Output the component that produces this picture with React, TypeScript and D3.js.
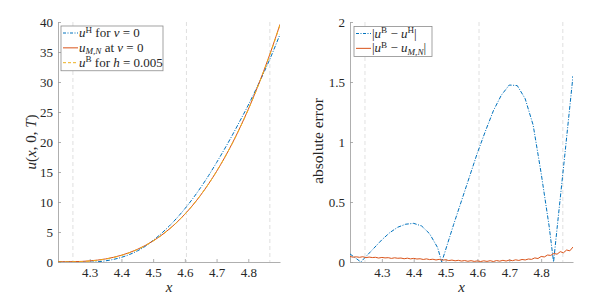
import { useEffect, useRef } from "react";
import * as d3 from "d3";

// x grid for the solution curves
const xU = [
  4.2, 4.225, 4.25, 4.275, 4.3, 4.325, 4.35, 4.375, 4.4, 4.425, 4.45, 4.475,
  4.5, 4.525, 4.55, 4.575, 4.6, 4.625, 4.65, 4.675, 4.7, 4.725, 4.75, 4.775,
  4.8, 4.825, 4.85, 4.875, 4.9,
];
const uH = [
  0.067, 0.021, -0.024, -0.049, -0.034, 0.041, 0.192, 0.434, 0.776, 1.237,
  1.843, 2.609, 3.6, 4.71, 5.95, 7.34, 8.88, 10.57, 12.42, 14.42, 16.57, 18.82,
  21.17, 23.64, 26.15, 28.86, 31.67, 34.68, 37.94,
];
const uMN = [
  0.044, 0.04, 0.06, 0.1, 0.19, 0.32, 0.51, 0.78, 1.13, 1.56, 2.1, 2.75, 3.52,
  4.41, 5.45, 6.63, 7.97, 9.48, 11.16, 13.04, 15.1, 17.36, 19.83, 22.53, 25.45,
  28.61, 32.02, 35.67, 39.61,
];
const uB = [
  0.0, 0.003, 0.021, 0.066, 0.151, 0.286, 0.482, 0.749, 1.098, 1.537, 2.078,
  2.729, 3.5, 4.4, 5.439, 6.626, 7.969, 9.478, 11.16, 13.03, 15.09, 17.35,
  19.81, 22.5, 25.41, 28.56, 31.95, 35.59, 39.49,
];

// |uB - uH|
const xErrH = [
  4.2, 4.225, 4.234, 4.25, 4.275, 4.3, 4.325, 4.35, 4.375, 4.4, 4.425, 4.45,
  4.475, 4.488, 4.5, 4.525, 4.55, 4.575, 4.6, 4.625, 4.65, 4.675, 4.7, 4.725,
  4.75, 4.775, 4.8, 4.825, 4.839, 4.85, 4.875, 4.9,
];
const errH = [
  0.067, 0.018, 0.0, 0.045, 0.115, 0.185, 0.245, 0.29, 0.315, 0.322, 0.3,
  0.235, 0.12, 0.0, 0.1, 0.31, 0.51, 0.71, 0.91, 1.09, 1.26, 1.39, 1.475, 1.47,
  1.36, 1.14, 0.74, 0.3, 0.0, 0.28, 0.91, 1.55,
];

// |uB - uMN|
const xErrMN = [
  4.2, 4.21, 4.22, 4.23, 4.24, 4.25, 4.26, 4.27, 4.28, 4.29, 4.3, 4.31, 4.32,
  4.33, 4.34, 4.35, 4.36, 4.37, 4.38, 4.39, 4.4, 4.41, 4.42, 4.43, 4.44, 4.45,
  4.46, 4.47, 4.48, 4.49, 4.5, 4.51, 4.52, 4.53, 4.54, 4.55, 4.56, 4.57, 4.58,
  4.59, 4.6, 4.61, 4.62, 4.63, 4.64, 4.65, 4.66, 4.67, 4.68, 4.69, 4.7, 4.71,
  4.72, 4.73, 4.74, 4.75, 4.76, 4.77, 4.78, 4.79, 4.8, 4.81, 4.82, 4.83, 4.84,
  4.85, 4.86, 4.87, 4.88, 4.89, 4.9,
];
const errMN = [
  0.046, 0.04, 0.043, 0.039, 0.044, 0.036, 0.041, 0.037, 0.039, 0.033, 0.038,
  0.034, 0.036, 0.03, 0.035, 0.031, 0.033, 0.027, 0.032, 0.026, 0.03, 0.025,
  0.027, 0.021, 0.026, 0.02, 0.023, 0.017, 0.022, 0.015, 0.019, 0.012, 0.016,
  0.01, 0.014, 0.008, 0.012, 0.006, 0.011, 0.005, 0.009, 0.004, 0.01, 0.005,
  0.011, 0.004, 0.012, 0.007, 0.014, 0.008, 0.016, 0.011, 0.018, 0.013, 0.021,
  0.017, 0.025, 0.022, 0.034, 0.029, 0.046, 0.042, 0.058, 0.055, 0.071, 0.065,
  0.086, 0.077, 0.1, 0.093, 0.125,
];

const markerLines = [4.247, 4.605, 4.868];
const xTicks = [4.3, 4.4, 4.5, 4.6, 4.7, 4.8];
const yTicksLeft = [0, 5, 10, 15, 20, 25, 30, 35, 40];
const yTicksRight = [0, 0.5, 1, 1.5, 2];

const BLUE = "#0072BD";
const ORANGE = "#D95319";
const YELLOW = "#EDB120";
const TEXT = "#262626";
const FONT = "Liberation Serif, DejaVu Serif, Noto Serif, Times New Roman, serif";

type Part = { t: string; it?: boolean; sup?: boolean; sub?: boolean };

function richText(
  sel: d3.Selection<SVGTextElement, unknown, null, undefined>,
  parts: Part[],
  size: number
) {
  let shift = 0;
  parts.forEach((p) => {
    const target = p.sup ? -size * 0.34 : p.sub ? size * 0.2 : 0;
    sel
      .append("tspan")
      .attr("dy", target - shift)
      .attr("font-size", p.sup || p.sub ? size * 0.7 : size)
      .attr("font-style", p.it ? "italic" : "normal")
      .text(p.t);
    shift = target;
  });
}

export default function App() {
  const svgRef = useRef<SVGSVGElement>(null);

  useEffect(() => {
    if (!svgRef.current) return;
    const svg = d3.select(svgRef.current);
    svg.selectAll("*").remove();

    const top = 22;
    const bottom = 262;

    const drawPanel = (
      id: string,
      left: number,
      right: number,
      yMax: number,
      yTicks: number[]
    ) => {
      const x = d3.scaleLinear().domain([4.2, 4.9]).range([left, right]);
      const y = d3.scaleLinear().domain([0, yMax]).range([bottom, top]);

      svg
        .append("clipPath")
        .attr("id", id)
        .append("rect")
        .attr("x", left)
        .attr("y", top)
        .attr("width", right - left)
        .attr("height", bottom - top);

      // dashed marker lines
      svg
        .append("g")
        .selectAll("line")
        .data(markerLines)
        .join("line")
        .attr("x1", (d) => x(d))
        .attr("x2", (d) => x(d))
        .attr("y1", top)
        .attr("y2", bottom)
        .attr("stroke", "#d8d8d8")
        .attr("stroke-width", 0.8)
        .attr("stroke-dasharray", "4,3");

      // axes
      const xAxis = d3
        .axisBottom(x)
        .tickValues(xTicks)
        .tickSizeInner(-3)
        .tickSizeOuter(0)
        .tickPadding(6)
        .tickFormat((d) => d3.format(".1f")(d as number));
      const gx = svg
        .append("g")
        .attr("transform", `translate(0,${bottom})`)
        .call(xAxis);
      const yAxis = d3
        .axisLeft(y)
        .tickValues(yTicks)
        .tickSizeInner(-3)
        .tickSizeOuter(0)
        .tickPadding(5)
        .tickFormat((d) => String(d));
      const gy = svg
        .append("g")
        .attr("transform", `translate(${left},0)`)
        .call(yAxis);
      [gx, gy].forEach((g) => {
        g.attr("font-family", FONT).attr("font-size", 13);
        g.select(".domain").attr("stroke", "#9a9a9a").attr("stroke-width", 0.8);
        g.selectAll(".tick line").attr("stroke", "#9a9a9a").attr("stroke-width", 0.8);
        g.selectAll(".tick text").attr("fill", TEXT);
      });

      // x label
      svg
        .append("text")
        .attr("x", (left + right) / 2)
        .attr("y", 292)
        .attr("text-anchor", "middle")
        .attr("fill", TEXT)
        .attr("font-family", FONT)
        .attr("font-style", "italic")
        .attr("font-size", 15)
        .text("x");

      const plot = svg.append("g").attr("clip-path", `url(#${id})`);
      return { x, y, plot };
    };

    const addLine = (
      g: d3.Selection<SVGGElement, unknown, null, undefined>,
      xs: number[],
      ys: number[],
      xScale: d3.ScaleLinear<number, number>,
      yScale: d3.ScaleLinear<number, number>,
      color: string,
      dash: string | null,
      curve: d3.CurveFactory
    ) => {
      const line = d3
        .line<number>()
        .x((_, i) => xScale(xs[i]))
        .y((d) => yScale(d))
        .curve(curve);
      g.append("path")
        .attr("d", line(ys))
        .attr("fill", "none")
        .attr("stroke", color)
        .attr("stroke-width", 1)
        .attr("stroke-dasharray", dash);
    };

    const addLegend = (
      lx: number,
      ly: number,
      w: number,
      entries: { color: string; dash: string | null; parts: Part[] }[]
    ) => {
      const rowH = 14.85;
      const h = entries.length * rowH + 0.2;
      const g = svg.append("g");
      g.append("rect")
        .attr("x", lx)
        .attr("y", ly)
        .attr("width", w)
        .attr("height", h)
        .attr("fill", "#fff")
        .attr("stroke", "#8c8c8c")
        .attr("stroke-width", 0.8);
      entries.forEach((e, i) => {
        const cy = ly + 7 + i * rowH;
        g.append("line")
          .attr("x1", lx + 2)
          .attr("x2", lx + 17)
          .attr("y1", cy)
          .attr("y2", cy)
          .attr("stroke", e.color)
          .attr("stroke-width", 1)
          .attr("stroke-dasharray", e.dash);
        const t = g
          .append("text")
          .attr("x", lx + 18)
          .attr("y", cy + 4)
          .attr("fill", TEXT)
          .attr("font-family", FONT)
          .attr("xml:space", "preserve")
          .style("white-space", "pre");
        richText(t, e.parts, 13);
      });
    };

    // ---- left panel ----
    const L = drawPanel("clipL", 58, 280, 40, yTicksLeft);
    addLine(L.plot, xU, uH, L.x, L.y, BLUE, "4,1.5,1,1.5", d3.curveMonotoneX);
    addLine(L.plot, xU, uMN, L.x, L.y, ORANGE, null, d3.curveMonotoneX);
    addLine(L.plot, xU, uB, L.x, L.y, YELLOW, "4,3", d3.curveMonotoneX);

    svg
      .append("text")
      .attr("transform", `translate(36,142) rotate(-90)`)
      .attr("text-anchor", "middle")
      .attr("fill", TEXT)
      .attr("font-family", FONT)
      .attr("font-size", 15)
      .style("white-space", "pre")
      .call((t) =>
        richText(
          t,
          [
            { t: "u", it: true },
            { t: "(" },
            { t: "x", it: true },
            { t: ", 0, " },
            { t: "T", it: true },
            { t: ")" },
          ],
          15
        )
      );

    addLegend(61, 26, 102, [
      {
        color: BLUE,
        dash: "3,1.5,1,1.5",
        parts: [
          { t: "u", it: true },
          { t: "H", sup: true },
          { t: " for " },
          { t: "v", it: true },
          { t: " = 0" },
        ],
      },
      {
        color: ORANGE,
        dash: null,
        parts: [
          { t: "u", it: true },
          { t: "M,N", it: true, sub: true },
          { t: " at " },
          { t: "v", it: true },
          { t: " = 0" },
        ],
      },
      {
        color: YELLOW,
        dash: "3,2",
        parts: [
          { t: "u", it: true },
          { t: "B", sup: true },
          { t: " for " },
          { t: "h", it: true },
          { t: " = 0.005" },
        ],
      },
    ]);

    // ---- right panel ----
    const R = drawPanel("clipR", 350, 573, 2, yTicksRight);
    addLine(R.plot, xErrH, errH, R.x, R.y, BLUE, "4,1.5,1,1.5", d3.curveLinear);
    addLine(R.plot, xErrMN, errMN, R.x, R.y, ORANGE, null, d3.curveLinear);

    svg
      .append("text")
      .attr("transform", `translate(323,141) rotate(-90)`)
      .attr("text-anchor", "middle")
      .attr("fill", TEXT)
      .attr("font-family", FONT)
      .attr("font-size", 15.5)
      .text("absolute error");

    addLegend(354, 26.5, 78, [
      {
        color: BLUE,
        dash: "3,1.5,1,1.5",
        parts: [
          { t: "|" },
          { t: "u", it: true },
          { t: "B", sup: true },
          { t: " − " },
          { t: "u", it: true },
          { t: "H", sup: true },
          { t: "|" },
        ],
      },
      {
        color: ORANGE,
        dash: null,
        parts: [
          { t: "|" },
          { t: "u", it: true },
          { t: "B", sup: true },
          { t: " − " },
          { t: "u", it: true },
          { t: "M,N", it: true, sub: true },
          { t: "|" },
        ],
      },
    ]);
  }, []);

  return (
    <svg
      ref={svgRef}
      width={598}
      height={299}
      style={{ position: "absolute", left: 0, top: 0, background: "#fff" }}
    />
  );
}
